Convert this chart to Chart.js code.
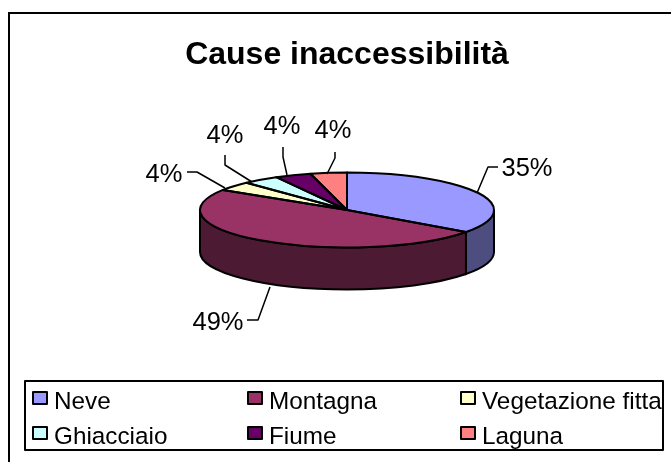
<!DOCTYPE html>
<html><head><meta charset="utf-8">
<style>html,body{margin:0;padding:0;background:#fff}canvas{display:block}</style>
<script src="https://cdn.jsdelivr.net/npm/chart.js@4"></script></head>
<body><div style="width:671px;height:462px"><canvas id="c" width="671" height="462"></canvas></div>
<script>
const categories = ["Neve","Montagna","Vegetazione fitta","Ghiacciaio","Fiume","Laguna"];
const shares = [35,49,4,4,4,4];
const sliceColors = ["#9999FF","#993366","#FFFFCC","#CCFFFF","#660066","#FF8080"];
const wallColors = ["#4D4D80","#4D1A33","#808066","#668080","#330033","#804040"];
const chartTitle = "Cause inaccessibilità";
// leader-line routes and label anchors, one per slice
const leaders = [
 {pts:[[477,193],[488,167],[498,167]],text:[527,169]},
 {pts:[[270,287],[258,320],[247,320]],text:[218,323]},
 {pts:[[225,188],[197,172],[187,172]],text:[164,175]},
 {pts:[[252,182],[225,165],[225,155]],text:[225,136]},
 {pts:[[287,175],[283,157],[283,147]],text:[282,127]},
 {pts:[[327,174],[335,158],[335,152]],text:[333,131]}
];
const FONT='"Liberation Sans",Arial,sans-serif';
const CY=210, RY=37.5, DEPTH=42;
function frame(ctx,a){ctx.translate(a.x,CY);ctx.scale(1,RY/a.outerRadius);ctx.translate(-a.x,-a.y);}
const pie3d={id:'pie3d',
 beforeDraw(ch){const c=ch.ctx;c.save();c.fillStyle='#fff';c.fillRect(0,0,671,462);
  c.strokeStyle='#000';c.lineWidth=2;c.beginPath();c.moveTo(9,462);c.lineTo(9,13);c.lineTo(671,13);c.stroke();c.restore();},
 beforeDatasetsDraw(ch){
  const c=ch.ctx,arcs=ch.getDatasetMeta(0).data;
  c.save();
  arcs.forEach((a,i)=>{
   const s=Math.max(a.startAngle,0),e=Math.min(a.endAngle,Math.PI);
   if(e<=s)return;
   const r=a.outerRadius;
   c.beginPath();
   c.ellipse(a.x,CY,r,RY,0,s,e);
   c.ellipse(a.x,CY+DEPTH,r,RY,0,e,s,true);
   c.closePath();
   c.fillStyle=wallColors[i];c.fill();
   c.strokeStyle='#000';c.lineWidth=2;c.stroke();
  });
  c.restore();
  c.save();frame(c,arcs[0]);
 },
 afterDatasetsDraw(ch){
  const c=ch.ctx,arcs=ch.getDatasetMeta(0).data;
  c.restore();
  c.save();c.strokeStyle='#000';c.lineWidth=2;c.lineJoin='round';
  arcs.forEach(a=>{
   c.beginPath();c.ellipse(a.x,CY,a.outerRadius,RY,0,a.startAngle,a.endAngle);
   c.lineTo(a.x,CY);c.closePath();c.stroke();
  });
  // leaders + labels
  c.lineWidth=1.5;c.fillStyle='#000';c.textAlign='center';c.textBaseline='middle';c.font='25.5px '+FONT;
  const tot=shares.reduce((p,q)=>p+q,0);
  leaders.forEach((l,i)=>{
   c.beginPath();l.pts.forEach((p,j)=>j?c.lineTo(p[0],p[1]):c.moveTo(p[0],p[1]));c.stroke();
   c.fillText(Math.round(shares[i]/tot*100)+'%',l.text[0],l.text[1]);
  });
  // legend
  c.lineWidth=2;c.strokeRect(25,381,638,69);
  c.font='24.3px '+FONT;c.textAlign='left';c.textBaseline='alphabetic';
  const cols=[33,248,461],rows=[392,427];
  categories.forEach((n,i)=>{
   const x=cols[i%3],y=rows[Math.floor(i/3)];
   c.fillStyle=sliceColors[i];c.fillRect(x,y,14,12);
   c.strokeStyle='#000';c.lineWidth=2;c.strokeRect(x,y,14,12);
   c.fillStyle='#000';c.fillText(n,x+21,y+17);
  });
  c.restore();
 }};
new Chart(document.getElementById('c'),{
 type:'pie',
 data:{labels:categories,datasets:[{data:shares,backgroundColor:sliceColors,borderWidth:0}]},
 plugins:[pie3d],
 options:{responsive:false,animation:false,
  layout:{padding:{left:177,right:154,top:0,bottom:84}},
  plugins:{legend:{display:false},tooltip:{enabled:false},
   title:{display:true,text:chartTitle,color:'#000',font:{family:FONT,size:32,weight:'bold'},padding:{top:36,bottom:9.6}}}}
});
</script></body></html>
